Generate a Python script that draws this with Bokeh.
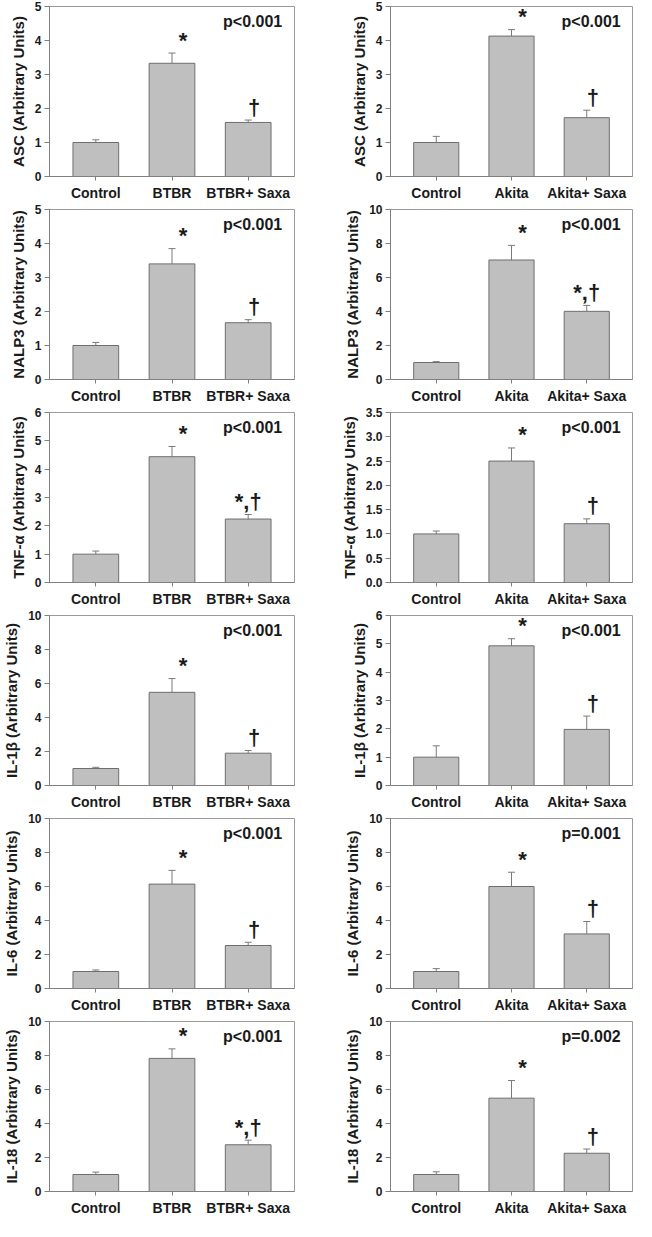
from bokeh.plotting import figure
from bokeh.layouts import gridplot
from bokeh.models import (FactorRange, Range1d, FixedTicker, NumeralTickFormatter,
                          ColumnDataSource, Whisker, TeeHead)
from bokeh.core.properties import value
from bokeh.embed import file_html
from bokeh.resources import INLINE

# ---------------- data ----------------
groups_btbr = ["Control", "BTBR", "BTBR+ Saxa"]
groups_akita = ["Control", "Akita", "Akita+ Saxa"]

markers = ["ASC", "NALP3", "TNF-α", "IL-1β", "IL-6", "IL-18"]

btbr_mean = [[1.0, 3.33, 1.59], [1.0, 3.40, 1.67], [1.0, 4.44, 2.24],
             [1.0, 5.48, 1.90], [1.0, 6.14, 2.53], [1.0, 7.83, 2.75]]
btbr_sem = [[0.08, 0.30, 0.07], [0.09, 0.45, 0.09], [0.11, 0.36, 0.16],
            [0.07, 0.81, 0.16], [0.09, 0.81, 0.19], [0.14, 0.56, 0.27]]
btbr_sig = [["", "*", "†"], ["", "*", "†"], ["", "*", "*,†"],
            ["", "*", "†"], ["", "*", "†"], ["", "*", "*,†"]]
btbr_p = ["p<0.001", "p<0.001", "p<0.001", "p<0.001", "p<0.001", "p<0.001"]
btbr_ymax = [5, 5, 6, 10, 10, 10]
btbr_ystep = [1, 1, 1, 2, 2, 2]

akita_mean = [[1.0, 4.13, 1.73], [1.0, 7.03, 4.01], [1.0, 2.50, 1.21],
              [1.0, 4.93, 1.98], [1.0, 6.00, 3.21], [1.0, 5.49, 2.25]]
akita_sem = [[0.18, 0.19, 0.22], [0.05, 0.86, 0.35], [0.06, 0.27, 0.10],
             [0.40, 0.25, 0.47], [0.17, 0.84, 0.73], [0.16, 1.04, 0.25]]
akita_sig = [["", "*", "†"], ["", "*", "*,†"], ["", "*", "†"],
             ["", "*", "†"], ["", "*", "†"], ["", "*", "†"]]
akita_p = ["p<0.001", "p<0.001", "p<0.001", "p<0.001", "p=0.001", "p=0.002"]
akita_ymax = [5, 10, 3.5, 6, 10, 10]
akita_ystep = [1, 2, 0.5, 1, 2, 2]

# ---------------- style ----------------
FONT = "Liberation Sans"
TXT = "#1a1a1a"
BAR_FILL = "#bfbfbf"
BAR_LINE = "#6e6e6e"
ERR = "#7a7a7a"
AX = "#808080"
MARK_DX = {"": 0, "*": 11, "†": 6, "*,†": 0}


def panel(cats, means, sems, sigs, ptxt, ymax, ystep, ylabel, left_col):
    p = figure(x_range=FactorRange(factors=cats, range_padding=0.072),
               y_range=Range1d(0, ymax),
               width=318, height=203, output_backend="svg", toolbar_location=None,
               min_border_left=46 if left_col else 72,
               min_border_right=24 if left_col else 4,
               min_border_top=6, min_border_bottom=24,
               background_fill_color="white", border_fill_color="white")
    p.outline_line_color = "#9a9a9a"
    p.xgrid.visible = False
    p.ygrid.visible = False

    upper = [m + s for m, s in zip(means, sems)]
    src = ColumnDataSource(dict(x=cats, top=means, upper=upper, sig=sigs,
                                dx=[MARK_DX[s] for s in sigs]))
    p.vbar(x="x", top="top", width=0.6, source=src,
           fill_color=BAR_FILL, line_color=BAR_LINE, line_width=1)
    p.add_layout(Whisker(base="x", lower="top", upper="upper", source=src,
                         line_color=ERR, line_width=1, lower_head=None,
                         upper_head=TeeHead(size=7, line_color=ERR, line_width=1)))
    p.text(x="x", y="upper", text="sig", source=src, x_offset="dx", y_offset=-13,
           text_align="center", text_baseline="alphabetic",
           text_font=value(FONT), text_font_style="bold",
           text_font_size="22px", text_color=TXT)
    p.text(x=[cats[2]], y=[ymax * 0.91], text=[ptxt], x_offset=34,
           text_align="right", text_baseline="middle",
           text_font=value(FONT), text_font_style="bold",
           text_font_size="16px", text_color=TXT)

    n = int(round(ymax / ystep))
    p.yaxis.ticker = FixedTicker(ticks=[i * ystep for i in range(n + 1)])
    p.yaxis.formatter = NumeralTickFormatter(format="0.0" if ystep < 1 else "0")
    p.yaxis.axis_label = ylabel
    p.yaxis.axis_label_text_font = FONT
    p.yaxis.axis_label_text_font_style = "bold"
    p.yaxis.axis_label_text_font_size = "15px"
    p.yaxis.axis_label_text_color = TXT
    p.yaxis.axis_label_standoff = 5
    p.yaxis.minor_tick_line_color = None
    p.yaxis.major_tick_out = 5
    p.yaxis.major_tick_in = 0

    p.xaxis.major_tick_out = 4
    p.xaxis.major_tick_in = 0
    for ax in (p.xaxis, p.yaxis):
        ax.axis_line_color = AX
        ax.major_tick_line_color = AX
        ax.major_label_text_font = FONT
        ax.major_label_text_font_style = "bold"
        ax.major_label_text_color = TXT
        ax.major_label_standoff = 3
    p.yaxis.major_label_text_font_size = "12px"
    p.xaxis.major_label_text_font_size = "14px"
    p.xaxis.major_label_standoff = 4
    return p


rows = []
for i in range(6):
    lab = f"{markers[i]} (Arbitrary Units)"
    left = panel(groups_btbr, btbr_mean[i], btbr_sem[i], btbr_sig[i], btbr_p[i],
                 btbr_ymax[i], btbr_ystep[i], lab, True)
    right = panel(groups_akita, akita_mean[i], akita_sem[i], akita_sig[i], akita_p[i],
                  akita_ymax[i], akita_ystep[i], lab, False)
    rows.append([left, right])

grid = gridplot(rows, toolbar_location=None)
open("out.html", "w").write(file_html(grid, INLINE))
